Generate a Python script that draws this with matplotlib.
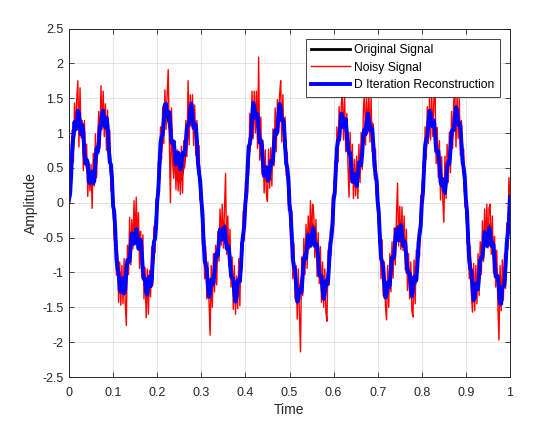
import numpy as np
import matplotlib
matplotlib.use('Agg')
import matplotlib.pyplot as plt

# clean signal, sampled every 0.005 s
original = [
    0.00, 0.47, 0.88, 1.15, 1.25, 1.20, 1.03, 0.78, 0.54, 0.36, 0.30, 0.36, 0.54, 0.78, 1.03, 1.20, 1.25, 1.15, 0.88, 0.47,
    0.00, -0.47, -0.88, -1.15, -1.25, -1.20, -1.03, -0.78, -0.54, -0.36, -0.30, -0.36, -0.54, -0.78, -1.03, -1.20, -1.25, -1.15, -0.88, -0.47,
    0.00, 0.47, 0.88, 1.15, 1.25, 1.20, 1.03, 0.78, 0.54, 0.36, 0.30, 0.36, 0.54, 0.78, 1.03, 1.20, 1.25, 1.15, 0.88, 0.47,
    0.00, -0.47, -0.88, -1.15, -1.25, -1.20, -1.03, -0.78, -0.54, -0.36, -0.30, -0.36, -0.54, -0.78, -1.03, -1.20, -1.25, -1.15, -0.88, -0.47,
    0.00, 0.47, 0.88, 1.15, 1.25, 1.20, 1.03, 0.78, 0.54, 0.36, 0.30, 0.36, 0.54, 0.78, 1.03, 1.20, 1.25, 1.15, 0.88, 0.47,
    0.00, -0.47, -0.88, -1.15, -1.25, -1.20, -1.03, -0.78, -0.54, -0.36, -0.30, -0.36, -0.54, -0.78, -1.03, -1.20, -1.25, -1.15, -0.88, -0.47,
    0.00, 0.47, 0.88, 1.15, 1.25, 1.20, 1.03, 0.78, 0.54, 0.36, 0.30, 0.36, 0.54, 0.78, 1.03, 1.20, 1.25, 1.15, 0.88, 0.47,
    0.00, -0.47, -0.88, -1.15, -1.25, -1.20, -1.03, -0.78, -0.54, -0.36, -0.30, -0.36, -0.54, -0.78, -1.03, -1.20, -1.25, -1.15, -0.88, -0.47,
    0.00, 0.47, 0.88, 1.15, 1.25, 1.20, 1.03, 0.78, 0.54, 0.36, 0.30, 0.36, 0.54, 0.78, 1.03, 1.20, 1.25, 1.15, 0.88, 0.47,
    0.00, -0.47, -0.88, -1.15, -1.25, -1.20, -1.03, -0.78, -0.54, -0.36, -0.30, -0.36, -0.54, -0.78, -1.03, -1.20, -1.25, -1.15, -0.88, -0.47,
    0.00,
]

# noisy measurement, sampled every 0.0025 s
noisy = [
    -0.20, 0.54, 0.22, 1.04, 0.58, 1.43, 1.05, 1.47, 1.75, 0.80, 1.65, 0.93, 1.18, 0.46, 1.18, 0.56, 0.84, 0.09, 0.56, 0.17,
    0.55, -0.08, 0.71, 0.24, 0.99, 0.36, 0.93, 1.31, 0.78, 1.68, 1.05, 1.60, 0.95, 1.42, 0.75, 1.33, 0.73, 1.04, 0.17, 0.44,
    0.15, -0.54, -0.22, -1.04, -0.68, -1.43, -0.85, -1.47, -0.90, -1.45, -0.80, -1.43, -1.76, -0.61, -1.03, -0.21, -0.89, -0.24, -0.66, 0.03,
    -0.55, 0.08, -0.56, -0.14, -0.94, -0.41, -1.08, -0.46, -1.38, -0.93, -1.65, -0.95, -1.60, -0.97, -1.35, -0.63, -1.18, -0.34, -0.72, 0.06,
    -0.25, 0.59, 0.27, 1.09, 0.63, 1.38, 0.85, 1.62, 1.05, 1.55, 1.91, 0.88, 0.00, 1.36, 0.58, 0.35, 0.89, 0.19, 0.76, 0.17,
    0.60, 0.12, 0.81, 0.14, 0.89, 0.51, 1.18, 0.66, 1.75, 0.83, 1.55, 1.10, 1.55, 0.82, 1.40, 0.68, 1.18, 0.44, 0.82, 0.04,
    0.20, -0.59, -0.17, -1.09, -0.63, -1.38, -0.85, -1.42, -1.90, -0.90, -1.50, -0.73, -1.28, -0.61, -1.18, -0.41, -0.84, -0.09, -0.61, -0.02,
    -0.65, -0.12, 0.42, -0.74, -0.19, -0.91, -0.38, -1.21, -0.78, -1.53, -0.90, -1.60, -1.05, -1.52, -0.80, -1.48, -0.58, -0.94, -0.12, -0.54,
    0.30, -0.01, 0.82, 0.39, 1.28, 0.83, 1.60, 0.92, 1.60, 1.00, 1.60, 0.78, 2.09, 0.61, 1.23, 0.41, 0.89, 0.14, 0.76, 0.12,
    0.02, 0.77, 0.21, 0.79, 0.24, 1.06, 0.53, 1.36, 0.73, 1.48, 1.00, 1.55, 1.75, 0.87, 1.55, 0.78, 1.23, 0.39, 0.72, -0.11,
    0.25, -0.54, -0.12, -1.09, -0.58, -1.38, -0.90, -1.67, -0.95, -1.60, -2.14, -0.78, -1.33, -0.51, -1.03, -0.31, -0.94, -0.19, -0.66, 0.03,
    -0.55, -0.02, -0.15, -0.79, -0.24, -1.06, -0.43, -1.16, -0.63, -1.43, -0.85, -1.50, -0.95, -1.57, -1.70, -0.68, -1.18, -0.39, -0.72, 0.11,
    -0.30, 0.59, 0.22, 1.09, 0.58, 1.38, 0.90, 1.42, 1.57, 0.90, 1.50, 0.73, 1.28, 0.56, 0.08, 1.01, 0.29, 0.84, 0.06, 0.62,
    0.10, 0.67, 0.06, 0.84, 0.29, 1.01, 0.48, 1.31, 1.60, 0.83, 1.50, 1.00, 1.55, 0.87, 1.50, 0.73, 1.13, 0.34, 0.77, -0.01,
    0.30, -0.59, -0.22, -1.09, -0.53, -1.33, -0.85, -1.47, -1.68, -0.90, -1.50, -0.73, -1.28, -0.56, -1.08, -0.36, -0.89, -0.19, 0.28, -0.62,
    -0.05, -0.67, -0.06, -0.69, -0.19, -0.96, -0.38, -1.26, -0.73, -1.38, -0.85, -1.55, -1.64, -0.82, -1.45, -0.68, -1.13, -0.39, -0.77, 0.11,
    -0.25, 0.59, 0.17, 1.09, 0.63, 1.38, 0.85, 1.52, 0.90, 1.55, 0.95, 1.48, 1.65, 0.56, 1.08, 0.36, 0.89, 0.04, 0.66, 0.07,
    -0.28, 0.67, 0.06, 0.84, 0.29, 1.01, 0.43, 1.31, 0.78, 1.48, 1.60, 0.80, 1.55, 0.92, 1.50, 0.68, 1.18, 0.44, 0.77, -0.06,
    0.30, -0.59, -0.17, -1.09, -0.63, -1.33, -1.57, -0.87, -1.55, -0.90, -1.45, -0.73, -1.33, -0.56, -1.03, -0.26, -0.84, -0.09, -0.61, -0.02,
    -0.65, -0.07, -0.02, -0.74, -0.19, -1.01, -0.48, -1.21, -0.68, -1.48, -1.97, -0.90, -1.55, -0.82, -1.40, -0.73, -1.23, -0.29, -0.67, 0.36,
    0.05,
]

# reconstruction, same 0.0025 s sampling as the noisy signal
recon = [
    0.05, 0.12, 0.40, 0.81, 0.98, 1.16, 1.05, 1.08, 1.32, 1.28, 1.08, 0.98, 1.12, 1.01, 0.70, 0.56, 0.62, 0.58, 0.30, 0.28,
    0.42, 0.45, 0.28, 0.32, 0.60, 0.78, 0.72, 0.83, 1.10, 1.10, 1.30, 1.32, 1.18, 1.08, 1.22, 1.11, 0.80, 0.58, 0.55, 0.35,
    -0.05, -0.12, -0.40, -0.80, -0.95, -1.00, -1.25, -1.28, -1.10, -1.08, -1.30, -1.24, -0.98, -0.82, -0.85, -0.84, -0.62, -0.44, -0.45, -0.59,
    -0.48, -0.38, -0.52, -0.66, -0.60, -0.53, -0.70, -0.98, -1.10, -1.09, -1.28, -1.32, -1.15, -1.06, -1.20, -1.12, -0.80, -0.56, -0.52, -0.35,
    0.02, 0.17, 0.52, 0.86, 0.95, 0.98, 1.20, 1.41, 1.42, 1.24, 1.30, 1.30, 1.10, 0.86, 0.85, 0.88, 0.72, 0.55, 0.58, 0.72,
    0.62, 0.48, 0.55, 0.72, 0.70, 0.69, 0.88, 1.10, 1.12, 1.14, 1.35, 1.42, 1.28, 1.07, 1.10, 1.12, 0.90, 0.56, 0.42, 0.32,
    0.05, -0.14, -0.52, -0.83, -0.90, -0.95, -1.20, -1.35, -1.30, -1.10, -1.15, -1.16, -0.98, -0.75, -0.72, -0.76, -0.55, -0.38, -0.42, -0.53,
    -0.40, -0.35, -0.50, -0.66, -0.62, -0.64, -0.85, -1.06, -1.08, -1.09, -1.30, -1.42, -1.35, -1.12, -1.10, -1.13, -0.92, -0.58, -0.45, -0.32,
    0.00, 0.15, 0.50, 0.80, 0.85, 0.94, 1.22, 1.43, 1.40, 1.22, 1.25, 1.27, 1.05, 0.86, 0.90, 0.82, 0.55, 0.38, 0.40, 0.51,
    0.38, 0.32, 0.45, 0.60, 0.55, 0.60, 0.85, 1.04, 0.98, 1.02, 1.25, 1.42, 1.35, 1.18, 1.20, 1.13, 0.82, 0.56, 0.50, 0.34,
    -0.02, -0.14, -0.45, -0.80, -0.92, -0.96, -1.20, -1.42, -1.40, -1.24, -1.28, -1.28, -1.05, -0.80, -0.75, -0.80, -0.62, -0.46, -0.50, -0.62,
    -0.55, -0.36, -0.40, -0.62, -0.60, -0.60, -0.80, -1.04, -1.05, -1.05, -1.25, -1.38, -1.30, -1.12, -1.18, -1.12, -0.85, -0.58, -0.50, -0.32,
    0.05, 0.13, 0.45, 0.78, 0.90, 0.90, 1.10, 1.28, 1.22, 1.08, 1.15, 1.20, 1.00, 0.76, 0.72, 0.71, 0.50, 0.30, 0.30, 0.41,
    0.28, 0.24, 0.40, 0.58, 0.55, 0.54, 0.72, 0.98, 1.05, 0.98, 1.15, 1.28, 1.20, 1.04, 1.08, 1.06, 0.85, 0.54, 0.42, 0.32,
    0.02, -0.14, -0.50, -0.80, -0.85, -0.92, -1.18, -1.36, -1.30, -1.14, -1.22, -1.18, -0.95, -0.78, -0.80, -0.76, -0.52, -0.38, -0.45, -0.54,
    -0.38, -0.32, -0.45, -0.62, -0.55, -0.58, -0.80, -1.00, -1.00, -1.01, -1.22, -1.34, -1.25, -1.06, -1.12, -1.11, -0.90, -0.58, -0.45, -0.34,
    -0.02, 0.13, 0.48, 0.82, 0.92, 0.94, 1.15, 1.32, 1.28, 1.10, 1.15, 1.18, 1.00, 0.74, 0.72, 0.74, 0.55, 0.30, 0.25, 0.34,
    0.18, 0.14, 0.30, 0.54, 0.58, 0.56, 0.75, 1.02, 1.05, 1.04, 1.22, 1.37, 1.32, 1.12, 1.15, 1.10, 0.85, 0.58, 0.50, 0.36,
    0.05, -0.12, -0.50, -0.84, -0.95, -0.98, -1.22, -1.40, -1.35, -1.16, -1.18, -1.24, -1.05, -0.82, -0.78, -0.79, -0.60, -0.42, -0.48, -0.62,
    -0.55, -0.36, -0.42, -0.62, -0.58, -0.60, -0.82, -1.06, -1.05, -1.05, -1.25, -1.45, -1.45, -1.22, -1.20, -1.17, -0.90, -0.58, -0.45, -0.26,
    0.08,
]

t = np.linspace(0, 1, len(original))
t_fine = np.linspace(0, 1, len(noisy))

labels = ['Original Signal', 'Noisy Signal', 'D Iteration Reconstruction']
xticks = np.arange(0, 1.01, 0.1)
yticks = np.arange(-2.5, 2.51, 0.5)

plt.rcParams['font.family'] = ['Liberation Sans', 'DejaVu Sans']
dark = '#262626'

fig = plt.figure(figsize=(5.47, 4.24), dpi=100)
ax = fig.add_axes([69 / 547, 1 - 377 / 424, 441 / 547, 348.5 / 424])

ax.plot(t, original, color='black', lw=2.0, label=labels[0])
ax.plot(t_fine, noisy, color='red', lw=1.0, label=labels[1])
ax.plot(t_fine, recon, color='blue', lw=2.8, label=labels[2])

ax.set_xlim(0, 1)
ax.set_ylim(-2.5, 2.5)
ax.set_xticks(xticks)
ax.set_xticklabels(['0'] + ['%.1f' % v for v in xticks[1:-1]] + ['1'])
ax.set_yticks(yticks)
ax.set_yticklabels(['%g' % v for v in yticks])
ax.grid(True, color='#dfdfdf', lw=0.6)
ax.set_axisbelow(True)
ax.tick_params(direction='in', length=3.5, width=0.6, colors=dark, labelsize=9,
               top=True, right=True)
ax.tick_params(axis='x', pad=7)
ax.tick_params(axis='y', pad=4)
for s in ax.spines.values():
    s.set_color(dark)
    s.set_linewidth(0.7)

ax.set_xlabel('Time', fontsize=10, color=dark, labelpad=3)
ax.set_ylabel('Amplitude', fontsize=10, color=dark, labelpad=3)

leg = ax.legend(loc='upper right', fontsize=8.7, handlelength=3.2, handletextpad=0.35,
                labelspacing=0.45, borderpad=0.45, borderaxespad=0.85, fancybox=False,
                framealpha=1, edgecolor=dark)
leg.get_frame().set_linewidth(0.6)

plt.savefig('out.png', dpi=100)
